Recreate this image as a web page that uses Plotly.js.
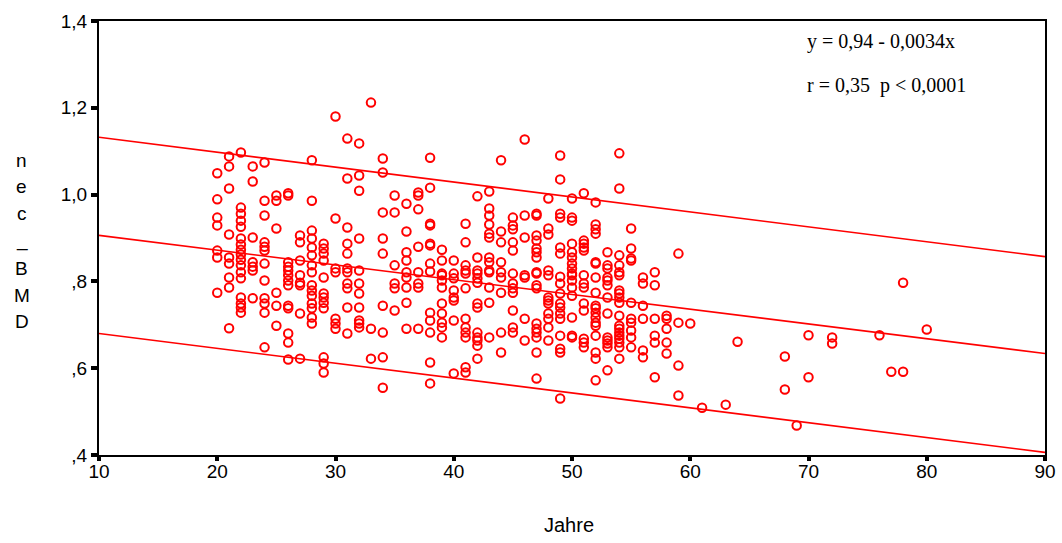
<!DOCTYPE html>
<html>
<head>
<meta charset="utf-8">
<script src="https://cdn.plot.ly/plotly-3.0.1.min.js"></script>
<style>html,body{margin:0;padding:0;background:#fff;}</style>
</head>
<body>
<div id="chart" style="width:1062px;height:543px;"></div>
<script>
// ---- data ----
const ageGroups = [20,21,22,23,24,25,26,27,28,29,30,31,32,33,34,35,36,37,38,39,40,41,42,43,44,45,46,47,48,49,50,51,52,53,54,55,56,57,58,59,60,61,63,64,68,69,70,72,76,77,78,80];
const bmdByAge = [
  [1.049,0.989,0.947,0.929,0.871,0.855,0.774],
  [1.088,1.065,1.014,0.908,0.855,0.841,0.809,0.786,0.692],
  [1.097,0.970,0.956,0.940,0.926,0.899,0.885,0.873,0.862,0.850,0.837,0.821,0.807,0.763,0.749,0.740,0.728],
  [1.065,1.030,0.901,0.844,0.834,0.825,0.761],
  [1.074,0.986,0.952,0.890,0.880,0.871,0.841,0.802,0.761,0.749,0.728,0.648],
  [0.998,0.986,0.922,0.774,0.744,0.698],
  [1.003,0.998,0.844,0.834,0.825,0.814,0.802,0.791,0.744,0.738,0.680,0.659,0.620],
  [0.906,0.890,0.848,0.814,0.797,0.791,0.726,0.622],
  [1.079,0.986,0.917,0.899,0.878,0.860,0.837,0.821,0.791,0.779,0.767,0.749,0.738,0.717,0.703],
  [0.887,0.876,0.864,0.848,0.809,0.772,0.763,0.751,0.738,0.625,0.611,0.590],
  [1.180,0.945,0.830,0.821,0.714,0.703,0.691],
  [1.129,1.037,0.924,0.887,0.864,0.830,0.821,0.795,0.784,0.740,0.680],
  [1.118,1.044,1.009,0.899,0.825,0.795,0.772,0.740,0.710,0.703,0.694],
  [1.212,0.691,0.622],
  [1.083,1.051,0.959,0.899,0.864,0.744,0.682,0.625,0.555],
  [0.998,0.959,0.837,0.795,0.784,0.733],
  [0.979,0.915,0.867,0.848,0.821,0.809,0.786,0.751,0.691],
  [1.005,0.998,0.966,0.880,0.821,0.795,0.786,0.691],
  [1.085,1.016,0.933,0.929,0.887,0.883,0.841,0.823,0.728,0.710,0.682,0.613,0.565],
  [0.873,0.848,0.818,0.814,0.802,0.786,0.749,0.726,0.705,0.694,0.671],
  [0.848,0.818,0.807,0.779,0.763,0.756,0.710,0.588],
  [0.933,0.890,0.837,0.825,0.818,0.784,0.714,0.694,0.682,0.671,0.602,0.590],
  [0.996,0.855,0.825,0.818,0.807,0.797,0.749,0.740,0.682,0.671,0.664,0.652,0.622],
  [1.007,0.968,0.952,0.931,0.910,0.901,0.855,0.844,0.825,0.821,0.786,0.751,0.671],
  [1.079,0.915,0.890,0.844,0.821,0.809,0.774,0.682,0.636],
  [0.947,0.929,0.920,0.890,0.871,0.818,0.795,0.784,0.774,0.733,0.694,0.682],
  [1.127,0.952,0.901,0.814,0.809,0.714,0.664],
  [0.956,0.952,0.906,0.894,0.876,0.867,0.855,0.821,0.818,0.791,0.784,0.703,0.691,0.682,0.671,0.636,0.576],
  [0.991,0.922,0.908,0.825,0.814,0.763,0.756,0.749,0.726,0.714,0.694,0.664],
  [1.090,1.035,0.956,0.947,0.878,0.864,0.811,0.795,0.772,0.749,0.740,0.726,0.714,0.675,0.645,0.636,0.530],
  [0.991,0.947,0.940,0.887,0.867,0.855,0.841,0.830,0.818,0.814,0.802,0.786,0.767,0.717,0.675,0.671],
  [1.003,0.894,0.887,0.878,0.871,0.814,0.795,0.786,0.749,0.733,0.668,0.659,0.648],
  [0.982,0.931,0.920,0.910,0.844,0.841,0.809,0.774,0.744,0.738,0.728,0.717,0.705,0.698,0.675,0.636,0.622,0.572],
  [0.867,0.837,0.830,0.809,0.802,0.791,0.763,0.726,0.671,0.664,0.657,0.648,0.595],
  [1.095,1.014,0.860,0.837,0.821,0.814,0.779,0.772,0.763,0.751,0.721,0.698,0.691,0.682,0.675,0.668,0.659,0.648,0.622],
  [0.922,0.876,0.853,0.848,0.751,0.714,0.705,0.687,0.671,0.648],
  [0.809,0.795,0.744,0.714,0.641,0.625],
  [0.821,0.791,0.714,0.675,0.659,0.579],
  [0.721,0.714,0.691,0.659,0.634],
  [0.864,0.705,0.606,0.537],
  [0.703],
  [0.509],
  [0.516],
  [0.661],
  [0.627,0.551],
  [0.468],
  [0.676,0.579],
  [0.671,0.657],
  [0.676],
  [0.592],
  [0.797,0.592],
  [0.689]
];
// regression line and its band (endpoints at 10 and 90 years)
const lineAge = [10, 90];
const fitBmd = [0.906, 0.634];
const upperBmd = [1.132, 0.857];
const lowerBmd = [0.680, 0.406];

const xTicks = [10,20,30,40,50,60,70,80,90];
const yTickVals = [0.4,0.6,0.8,1.0,1.2,1.4];
const yTickText = [',4',',6',',8','1,0','1,2','1,4'];
const yTitleLetters = ['n','e','c','_','B','M','D'];
const eqText = 'y = 0,94 - 0,0034x';
const statText = 'r = 0,35\u00a0\u00a0p < 0,0001';
const xTitle = 'Jahre';

// ---- build ----
const W = 1062, H = 543;
const M = {l: 99, r: 17, t: 21, b: 88};
const plotW = W - M.l - M.r, plotH = H - M.t - M.b;
const px = x => (x - M.l) / plotW;
const py = y => (H - M.b - y) / plotH;

const xs = [], ys = [];
ageGroups.forEach((a, i) => bmdByAge[i].forEach(v => { xs.push(a); ys.push(v); }));

const red = '#ff0000';
const lineStyle = {color: red, width: 1.6};
const traces = [
  {x: lineAge, y: upperBmd, mode: 'lines', line: lineStyle, hoverinfo: 'skip'},
  {x: lineAge, y: fitBmd, mode: 'lines', line: lineStyle, hoverinfo: 'skip'},
  {x: lineAge, y: lowerBmd, mode: 'lines', line: lineStyle, hoverinfo: 'skip'},
  {x: xs, y: ys, mode: 'markers', type: 'scatter',
   marker: {symbol: 'circle-open', size: 8.5, color: red, line: {color: red, width: 2}}}
];

const sans = 'Liberation Sans, Arial, sans-serif';
const serif = 'Liberation Serif, Times New Roman, serif';
const annotations = [];
const letterBase = [167, 193.5, 220, 246.5, 275, 302, 328];
yTitleLetters.forEach((ch, i) => annotations.push({
  xref: 'paper', yref: 'paper', x: px(21.5), y: py(letterBase[i] - 7),
  xanchor: 'center', yanchor: 'middle', showarrow: false, text: ch,
  font: {family: sans, size: 19, color: '#000'}
}));
annotations.push({xref: 'paper', yref: 'paper', x: px(569), y: py(525), xanchor: 'center', yanchor: 'middle',
  showarrow: false, text: xTitle, font: {family: sans, size: 20, color: '#000'}});
annotations.push({xref: 'paper', yref: 'paper', x: px(805), y: py(41), xanchor: 'left', yanchor: 'middle',
  showarrow: false, text: eqText, font: {family: serif, size: 20, color: '#000'}});
annotations.push({xref: 'paper', yref: 'paper', x: px(805), y: py(86), xanchor: 'left', yanchor: 'middle',
  showarrow: false, text: statText, font: {family: serif, size: 20, color: '#000'}});

const axisCommon = {
  showline: true, mirror: true, linecolor: '#000', linewidth: 2,
  showgrid: false, zeroline: false, ticks: 'outside', tickcolor: '#000',
  tickwidth: 4, tickfont: {family: sans, size: 19, color: '#000'}
};
const layout = {
  width: W, height: H, margin: M, showlegend: false,
  paper_bgcolor: '#fff', plot_bgcolor: '#fff',
  xaxis: Object.assign({}, axisCommon, {range: [10, 90], tickmode: 'array', tickvals: xTicks,
    ticktext: xTicks.map(String), ticklen: 4, ticklabelstandoff: -6}),
  yaxis: Object.assign({}, axisCommon, {range: [0.4, 1.4], tickmode: 'array', tickvals: yTickVals,
    ticktext: yTickText, ticklen: 6}),
  annotations: annotations
};
Plotly.newPlot('chart', traces, layout, {staticPlot: true, displayModeBar: false});
</script>
</body>
</html>
